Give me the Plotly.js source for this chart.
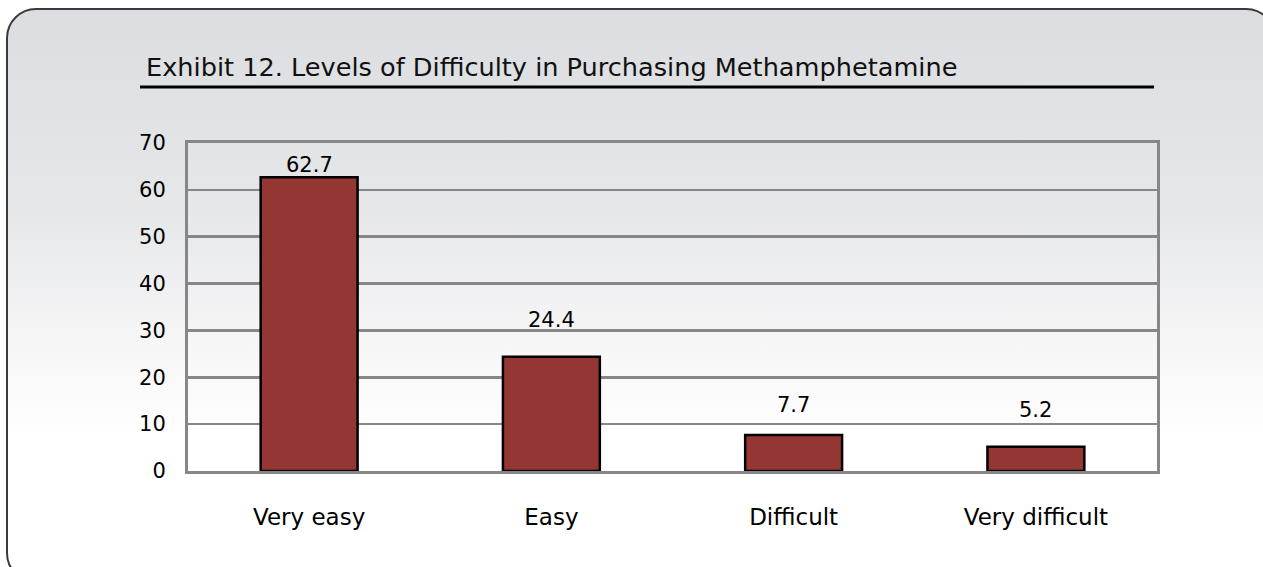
<!DOCTYPE html>
<html>
<head>
<meta charset="utf-8">
<script src="https://cdn.plot.ly/plotly-3.0.1.min.js"></script>
<style>
  html, body { margin: 0; padding: 0; width: 1263px; height: 567px; overflow: hidden; background: #ffffff; }
  #frame {
    position: absolute; left: 6px; top: 8px; width: 1270px; height: 575px;
    box-sizing: border-box; border: 2px solid #3a3a3a; border-radius: 30px;
    background: linear-gradient(to bottom, #dcdde0 0%, #e6e7e9 35%, #f7f7f8 60%, #ffffff 75%, #ffffff 100%);
  }
  #chart { position: absolute; left: 0; top: 0; width: 1263px; height: 567px; }
</style>
</head>
<body>
<div id="frame"></div>
<div id="chart"></div>
<script>
const categories = ["Very easy", "Easy", "Difficult", "Very difficult"];
const values = [62.7, 24.4, 7.7, 5.2];
const labels = ["62.7", "24.4", "7.7", "5.2"];
const yTicks = [0, 10, 20, 30, 40, 50, 60, 70];
const titleText = "Exhibit 12. Levels of Difficulty in Purchasing Methamphetamine";

const W = 1263, H = 567;
const L = 188, R = 1157, T = 143, B = 471;
const px = X => (X - L) / (R - L);
const py = Y => (B - Y) / (B - T);

const fontFam = "DejaVu Sans, Open Sans, sans-serif";
const labelShift = [12, 37, 30, 37];

const trace = {
  type: "bar",
  x: categories,
  y: values,
  marker: { color: "#943634", line: { color: "#000000", width: 2.5 } },
  width: 0.4,
  hoverinfo: "skip"
};

const annotations = categories.map((c, i) => ({
  x: c, y: values[i], xref: "x", yref: "y",
  text: labels[i], showarrow: false,
  yanchor: "middle", yshift: labelShift[i],
  font: { family: fontFam, size: 21, color: "#000000" }
}));
annotations.push({
  text: titleText, showarrow: false,
  xref: "paper", yref: "paper",
  x: px(144), xanchor: "left",
  y: py(67.5), yanchor: "middle",
  font: { family: fontFam, size: 25.6, color: "#111111" }
});

const layout = {
  width: W, height: H,
  margin: { l: L, r: W - R, t: T, b: H - B, pad: 0 },
  paper_bgcolor: "rgba(0,0,0,0)",
  plot_bgcolor: "rgba(0,0,0,0)",
  showlegend: false,
  font: { family: fontFam, size: 20, color: "#000000" },
  xaxis: {
    type: "category",
    showline: true, mirror: true, linecolor: "#878787", linewidth: 3,
    showgrid: false, zeroline: false,
    ticks: "", ticklabelstandoff: 23,
    tickfont: { family: fontFam, size: 23, color: "#000000" }
  },
  yaxis: {
    range: [0, 70],
    tickvals: yTicks,
    ticktext: yTicks.map(String),
    showline: true, mirror: true, linecolor: "#878787", linewidth: 3,
    showgrid: true, gridcolor: "#878787", gridwidth: 2.5,
    zeroline: false,
    ticks: "", ticklabelstandoff: 15,
    tickfont: { family: fontFam, size: 21, color: "#000000" }
  },
  annotations: annotations,
  shapes: [
    {
      type: "line", xref: "paper", yref: "paper",
      x0: px(140), x1: px(1154), y0: py(87), y1: py(87),
      line: { color: "#000000", width: 3 }
    }
  ]
};

Plotly.newPlot("chart", [trace], layout, { displayModeBar: false, staticPlot: true });
</script>
</body>
</html>
